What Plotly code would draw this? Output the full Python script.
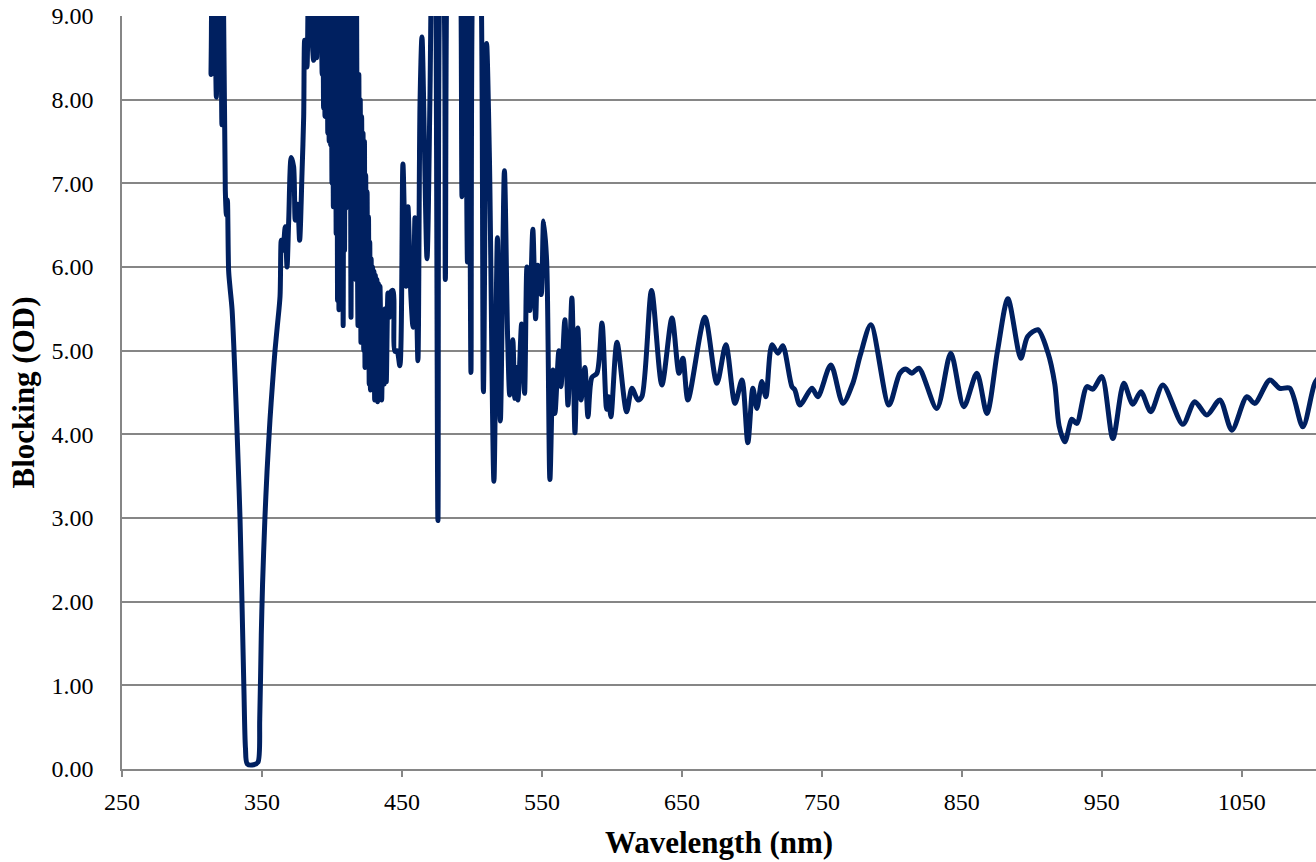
import plotly.graph_objects as go

# Wavelength (nm) and blocking (OD)
wavelength = [
    305, 313, 313.6, 314.5, 315.4, 316, 317.4, 318.5, 319.5, 320.5, 321.4, 322.6,
    323.8, 324.6, 325.3, 326.2, 327.2, 328.6, 330, 331.4, 332.9, 334.3, 335.7,
    337.1, 338.2, 339.5, 344, 347.1, 348.4, 349.5, 350.4, 352.1, 353.6, 355.7,
    357.5, 359.3, 361, 362.9, 363.8, 365, 366.6, 367.9, 369.1, 370.9, 372.6,
    373.8, 375.5, 376.9, 378.6, 379.8, 380.5, 382.1, 383.4, 385, 386.9, 388,
    389, 390.5, 392,
    393.0, 393.5, 394.0, 394.5, 395.0, 395.5, 396.0, 396.5, 397.0, 397.5,
    398.0, 398.5, 399.0, 399.5, 400.0, 400.5, 401.0, 401.5, 402.0, 402.5,
    403.0, 403.5, 404.0, 404.5, 405.0, 405.5, 406.0, 406.5, 407.0, 407.5,
    408.0, 408.5, 409.0, 409.5, 410.0, 410.5, 411.4, 412.0, 412.5, 413.0,
    413.6, 414.2, 414.7, 415.2, 415.8, 416.3, 417.0, 417.6, 418.1, 418.6,
    419.2, 419.7, 420.2, 420.7, 421.2, 421.7, 422.2, 422.7, 423.2, 423.6,
    424.1, 424.6, 425.1, 425.6, 426.1, 426.6, 427.0, 427.5, 428.0, 428.5,
    429.0, 429.5, 430.0, 430.5, 431.0, 431.6, 432.1, 432.6, 433.2, 433.7,
    434.3, 435.5, 436.4, 437.3, 438.0, 438.8, 440.0, 441.0, 442.0, 443.6,
    445, 446.5, 448.5, 450.7, 452.9, 454.3,
    456.4, 457.9, 459.3, 461.4, 462.9, 464.3, 467.9, 470, 471.4, 472.6, 473.8,
    475.7, 477.8, 479.6, 481, 482.8, 485, 487, 489.5, 491.4, 492.9, 494.8,
    496.8, 498, 499.3, 501.2, 503.5, 505.7, 508.2, 510.5, 512.5, 515.7, 518.2,
    520.3, 523.2, 525.5, 527, 529.2, 530.6, 531.8, 532.9, 535.5, 537.6, 539.3,
    541.3, 543.5, 545.5, 547, 549.5, 551.2, 553.4, 555.7, 557.9, 559.3, 562.1,
    563.6, 566.4, 568.6, 571.4, 573.6, 575.7, 577.9, 580.7, 582.9, 585.7,
    589.3, 592.9, 596.2, 597.6, 599.3, 603.6, 610.5, 614.3, 618.6, 621.4,
    628.3, 635.7, 642.9, 647.9, 650.7, 654.3, 666.4, 675, 681.4, 687.9, 692.9,
    697.1, 700.7, 703.6, 707.1, 710, 714.3, 718.6, 722.1, 728.6, 730.7, 734.3,
    742.9, 747.1, 756.4, 765, 772.1, 777.5, 785, 797.9, 805.7, 810, 814.3,
    819.3, 832.1, 842.1, 851.4, 860.7, 867.9, 875.5, 882.9, 892.1, 897, 904.3,
    911.4, 916.4, 919.5, 923.6, 928.6, 932.1, 939.3, 943.6, 950, 957.9, 965.7,
    972.1, 977.9, 985, 993.6, 1007.9, 1016.4, 1025, 1034.3, 1042.9, 1053.6,
    1059.3, 1070, 1077.1, 1084.3, 1093.6, 1102.1, 1106,
]

blocking_od = [
    10.5, 9.8, 8.3, 9.8, 8.4, 9.6, 8.03, 9.4, 8.6, 9.3, 7.7, 9.0,
    6.92, 6.62, 6.8, 5.95, 5.75, 5.5, 5.0, 4.4, 3.7, 3.0, 2.0,
    0.95, 0.25, 0.06, 0.05, 0.08, 0.6, 1.6, 2.2, 3.0, 3.55, 4.17,
    4.6, 5.0, 5.3, 5.65, 6.32, 6.2, 6.48, 6.0, 6.56, 7.31, 7.2,
    6.56, 6.75, 6.32, 7.12, 7.8, 8.71, 8.39, 9.8, 9.0, 8.47, 9.8,
    8.5, 9.8, 9.3,
    8.3, 9.8, 7.9, 9.8, 7.8, 9.6, 8.1, 9.8, 7.6, 9.7,
    7.5, 9.8, 7.46, 9.5, 7.0, 9.7, 6.72, 9.4, 6.9, 9.6,
    6.4, 9.5, 5.6, 9.6, 5.49, 9.3, 6.5, 9.4, 5.6, 9.2,
    5.3, 9.3, 6.2, 9.4, 6.7, 9.2, 6.8, 9.2, 8.0, 9.0,
    5.4, 8.9, 6.2, 9.1, 7.2, 8.9, 5.85, 9.1, 6.5, 5.3,
    8.3, 5.4, 8.0, 5.1, 7.8, 5.6, 7.6, 5.0, 7.5, 4.8,
    7.1, 5.0, 6.9, 4.8, 6.6, 4.6, 6.3, 4.53, 6.1, 4.69,
    6.0, 4.55, 5.95, 4.41, 5.9, 4.5, 5.85, 4.39, 5.8, 4.45,
    5.77, 4.41, 5.48, 4.6, 5.5, 4.63, 5.69, 5.4, 5.7, 5.72,
    4.99, 5.0, 4.82, 7.23, 5.77, 6.72,
    5.65, 5.28, 6.59, 4.88, 7.95, 8.75, 6.1, 8.03, 9.8, 9.2, 9.8,
    2.97, 9.8, 9.6, 5.85, 9.8, 9.5, 9.8, 9.5, 9.8, 6.84, 9.8,
    6.06, 9.0, 4.74, 9.8, 9.5, 9.8, 4.51, 8.67, 7.3, 3.44, 6.35,
    4.16, 7.15, 5.15, 4.47, 5.13, 4.43, 4.8, 4.41, 5.32, 4.49, 6.0,
    5.48, 6.45, 5.38, 6.02, 5.67, 6.55, 6.06, 3.46, 4.77, 4.25, 5.0,
    4.57, 5.37, 4.35, 5.63, 4.02, 5.27, 4.41, 4.8, 4.21, 4.68,
    4.73, 5.33, 4.3, 4.45, 4.21, 5.1, 4.27, 4.55, 4.41, 4.45,
    5.72, 4.59, 5.39, 4.73, 4.91, 4.41, 5.4, 4.61, 5.07, 4.37, 4.65,
    3.9, 4.55, 4.31, 4.63, 4.45, 5.07, 4.97, 5.06, 4.57, 4.53, 4.35,
    4.55, 4.45, 4.83, 4.37, 4.61, 4.95, 5.31, 4.35, 4.73, 4.78, 4.73,
    4.79, 4.31, 4.97, 4.33, 4.73, 4.25, 5.0, 5.62, 4.91, 5.17, 5.25,
    4.98, 4.6, 4.1, 3.91, 4.18, 4.13, 4.57, 4.54, 4.69, 3.95, 4.61,
    4.36, 4.51, 4.27, 4.59, 4.12, 4.39, 4.23, 4.41, 4.05, 4.45,
    4.37, 4.65, 4.55, 4.55, 4.09, 4.61, 4.7,
]

x_title = "Wavelength (nm)"
y_title = "Blocking (OD)"

FONT = "Liberation Serif, Times New Roman, serif"
GRID = "#868686"
LINE = "#002060"

fig = go.Figure(
    go.Scatter(
        x=wavelength,
        y=blocking_od,
        mode="lines",
        line=dict(color=LINE, width=5, shape="spline", smoothing=0.8),
        hoverinfo="skip",
    )
)

fig.update_layout(
    width=1316,
    height=862,
    margin=dict(l=122, r=0, t=16, b=93),
    paper_bgcolor="white",
    plot_bgcolor="white",
    showlegend=False,
    font=dict(family=FONT, color="black", size=24),
)

fig.update_xaxes(
    range=[250, 1103],
    tick0=250,
    dtick=100,
    showgrid=False,
    zeroline=False,
    showline=True,
    linecolor=GRID,
    linewidth=1.5,
    ticks="outside",
    ticklen=6,
    tickwidth=1.5,
    tickcolor=GRID,
    ticklabelstandoff=4,
    tickfont=dict(family=FONT, size=24, color="black"),
    title=dict(text=x_title, font=dict(family=FONT, size=31, color="black", weight="bold"), standoff=18),
    automargin=False,
)

fig.update_yaxes(
    range=[0, 9],
    dtick=1,
    tickformat=".2f",
    showgrid=True,
    gridcolor=GRID,
    gridwidth=1.5,
    zeroline=False,
    showline=True,
    linecolor=GRID,
    linewidth=1.5,
    ticks="",
    ticklabelstandoff=22,
    tickfont=dict(family=FONT, size=24, color="black"),
    title=dict(text=y_title, font=dict(family=FONT, size=31, color="black", weight="bold"), standoff=8),
    automargin=False,
)

fig.write_html(
    "out.html",
    config={"displayModeBar": False},
    post_script="document.body.style.margin='0';document.body.style.overflow='hidden';",
)
